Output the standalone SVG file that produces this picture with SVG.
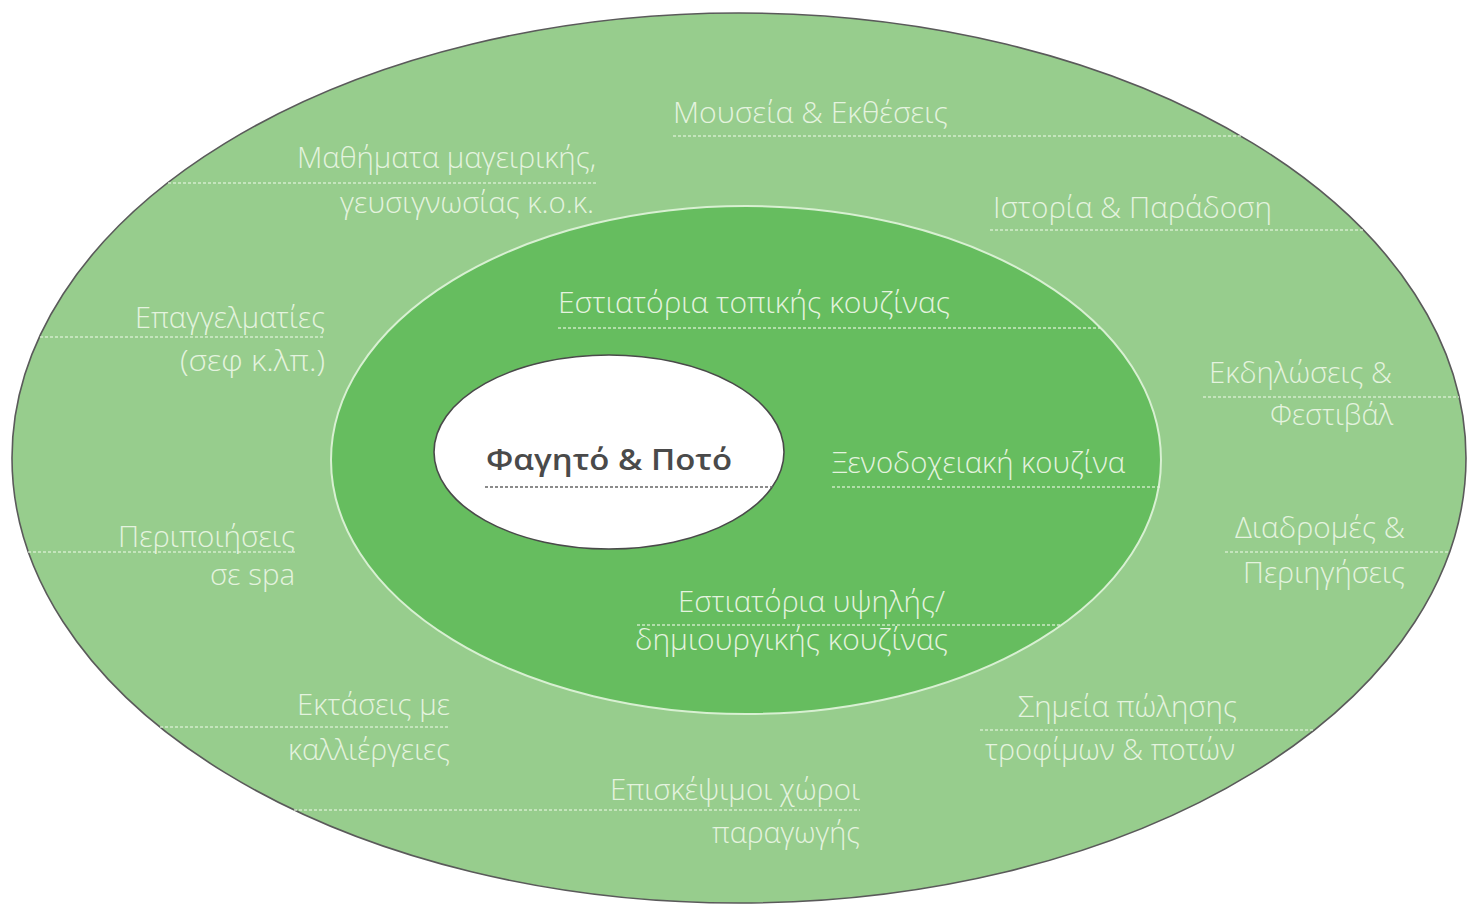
<svg xmlns="http://www.w3.org/2000/svg" width="1468" height="906" viewBox="0 0 1468 906">
<style>
.lbl{font-family:"Open Sans","Noto Sans","DejaVu Sans",sans-serif;font-size:29px;font-weight:300;fill:#e4f3df;}
.core{font-family:"Open Sans","Noto Sans","DejaVu Sans",sans-serif;font-size:28px;font-weight:600;fill:#4a4a4a;}
.dot{stroke:#e2f3dc;stroke-width:1.4;stroke-dasharray:3 2;fill:none;opacity:0.8;}
.dotdark{stroke:#666;stroke-width:1.4;stroke-dasharray:3 2;fill:none;}
.r{text-anchor:end;}
</style>
<rect width="1468" height="906" fill="#ffffff"/>
<g id="outer-ring">
<ellipse cx="739" cy="458" rx="727" ry="445" fill="#97cd8d" stroke="#5a5a5a" stroke-width="1.6"/>
</g>
<g id="middle-ring">
<ellipse cx="746" cy="460" rx="415" ry="254" fill="#66bd5f" stroke="#d8f0d2" stroke-width="2"/>
</g>
<g id="core">
<ellipse cx="609" cy="452" rx="175" ry="97" fill="#ffffff" stroke="#4a4a4a" stroke-width="1.6"/>
</g>
<g id="connectors">
<line class="dot" x1="168" y1="183" x2="597" y2="183"/>
<line class="dot" x1="673" y1="136" x2="1241" y2="136"/>
<line class="dot" x1="990" y1="230" x2="1363" y2="230"/>
<line class="dot" x1="40" y1="337" x2="325" y2="337"/>
<line class="dot" x1="558" y1="328" x2="1100" y2="328"/>
<line class="dot" x1="1203" y1="397" x2="1459" y2="397"/>
<line class="dotdark" x1="485" y1="487" x2="773" y2="487"/>
<line class="dot" x1="832" y1="487" x2="1160" y2="487"/>
<line class="dot" x1="28" y1="552" x2="295" y2="552"/>
<line class="dot" x1="1225" y1="552" x2="1449" y2="552"/>
<line class="dot" x1="637" y1="625" x2="1061" y2="625"/>
<line class="dot" x1="160" y1="727" x2="450" y2="727"/>
<line class="dot" x1="980" y1="730" x2="1314" y2="730"/>
<line class="dot" x1="294" y1="810" x2="860" y2="810"/>
</g>
<g id="n-mathimata">
<text class="lbl r" x="596" y="168" textLength="299" lengthAdjust="spacingAndGlyphs">Μαθήματα μαγειρικής,</text>
<text class="lbl r" x="594" y="213" textLength="254" lengthAdjust="spacingAndGlyphs">γευσιγνωσίας κ.ο.κ.</text>
</g>
<g id="n-mouseia">
<text class="lbl" x="673" y="123" textLength="275" lengthAdjust="spacingAndGlyphs">Μουσεία &amp; Εκθέσεις</text>
</g>
<g id="n-istoria">
<text class="lbl" x="993" y="218" textLength="279" lengthAdjust="spacingAndGlyphs">Ιστορία &amp; Παράδοση</text>
</g>
<g id="n-epaggelmaties">
<text class="lbl r" x="325" y="328" textLength="190" lengthAdjust="spacingAndGlyphs">Επαγγελματίες</text>
<text class="lbl r" x="325" y="371" textLength="145" lengthAdjust="spacingAndGlyphs">(σεφ κ.λπ.)</text>
</g>
<g id="n-topikis">
<text class="lbl" x="558" y="313" textLength="392" lengthAdjust="spacingAndGlyphs">Εστιατόρια τοπικής κουζίνας</text>
</g>
<g id="n-ekdiloseis">
<text class="lbl r" x="1392" y="383" textLength="183" lengthAdjust="spacingAndGlyphs">Εκδηλώσεις &amp;</text>
<text class="lbl r" x="1393" y="425" textLength="123" lengthAdjust="spacingAndGlyphs">Φεστιβάλ</text>
</g>
<g id="n-fagito">
<text class="core" x="486" y="470" textLength="246" lengthAdjust="spacingAndGlyphs">Φαγητό &amp; Ποτό</text>
</g>
<g id="n-xenodoxeiaki">
<text class="lbl" x="832" y="473" textLength="293" lengthAdjust="spacingAndGlyphs">Ξενοδοχειακή κουζίνα</text>
</g>
<g id="n-peripoiiseis">
<text class="lbl r" x="295" y="547" textLength="177" lengthAdjust="spacingAndGlyphs">Περιποιήσεις</text>
<text class="lbl r" x="295" y="585" textLength="85" lengthAdjust="spacingAndGlyphs">σε spa</text>
</g>
<g id="n-diadromes">
<text class="lbl r" x="1405" y="538" textLength="170" lengthAdjust="spacingAndGlyphs">Διαδρομές &amp;</text>
<text class="lbl r" x="1405" y="583" textLength="162" lengthAdjust="spacingAndGlyphs">Περιηγήσεις</text>
</g>
<g id="n-ypsilis">
<text class="lbl r" x="945" y="612" textLength="267" lengthAdjust="spacingAndGlyphs">Εστιατόρια υψηλής/</text>
<text class="lbl r" x="948" y="650" textLength="313" lengthAdjust="spacingAndGlyphs">δημιουργικής κουζίνας</text>
</g>
<g id="n-ektaseis">
<text class="lbl r" x="450" y="715" textLength="153" lengthAdjust="spacingAndGlyphs">Εκτάσεις με</text>
<text class="lbl r" x="450" y="760" textLength="162" lengthAdjust="spacingAndGlyphs">καλλιέργειες</text>
</g>
<g id="n-simeia">
<text class="lbl" x="1018" y="717" textLength="219" lengthAdjust="spacingAndGlyphs">Σημεία πώλησης</text>
<text class="lbl" x="985" y="760" textLength="250" lengthAdjust="spacingAndGlyphs">τροφίμων &amp; ποτών</text>
</g>
<g id="n-episkepsimoi">
<text class="lbl r" x="860" y="800" textLength="250" lengthAdjust="spacingAndGlyphs">Επισκέψιμοι χώροι</text>
<text class="lbl r" x="860" y="843" textLength="148" lengthAdjust="spacingAndGlyphs">παραγωγής</text>
</g>
</svg>
